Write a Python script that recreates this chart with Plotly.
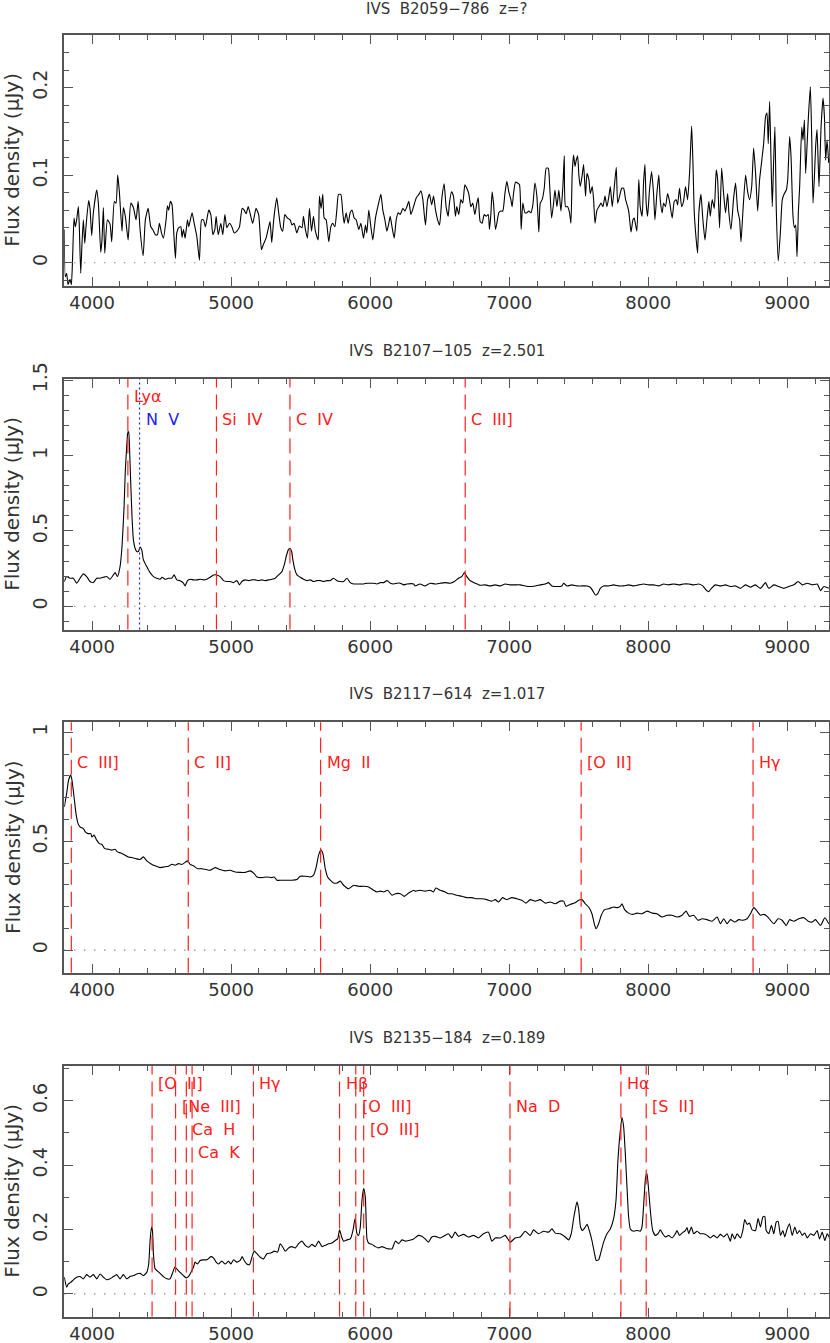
import plotly.graph_objects as go

# ---------------------------------------------------------------
# spectra: wavelength (A), flux (uJy)
# ---------------------------------------------------------------

wave_b2059 = [3800, 3807, 3817, 3827, 3841, 3851, 3860, 3870, 3879, 3889,
              3901, 3908, 3918, 3927, 3937, 3947, 3956, 3975, 3985, 3997,
              4009, 4033, 4045, 4062, 4071, 4081, 4091, 4110, 4129, 4141,
              4160, 4172, 4184, 4196, 4215, 4225, 4239, 4259, 4278, 4297,
              4316, 4331, 4345, 4367, 4383, 4403, 4422, 4436, 4455, 4470,
              4484, 4499, 4513, 4532, 4542, 4551, 4563, 4575, 4585, 4599,
              4609, 4623, 4638, 4647, 4657, 4669, 4686, 4695, 4719, 4734,
              4753, 4772, 4787, 4801, 4815, 4839, 4854, 4868, 4883, 4892,
              4907, 4926, 4940, 4955, 4969, 4988, 5003, 5022, 5041, 5060,
              5079, 5094, 5108, 5123,
              5155, 5179, 5198, 5218, 5232, 5251, 5270, 5280, 5292, 5304,
              5314, 5328, 5342, 5357, 5371, 5386, 5405, 5424, 5438, 5453,
              5472, 5491, 5510, 5520, 5534, 5549, 5563, 5578, 5592, 5606,
              5626, 5635, 5647, 5659, 5669, 5683, 5702, 5717, 5731, 5746,
              5760, 5772, 5789, 5803, 5813, 5827, 5842, 5856, 5870, 5885,
              5899, 5918, 5933, 5952, 5966, 5976, 5990, 6005, 6019, 6038,
              6058, 6077, 6091, 6106, 6120, 6134, 6144, 6158, 6173, 6187,
              6202, 6216, 6235, 6250, 6264, 6278, 6293, 6312, 6331, 6350,
              6365, 6379, 6389, 6398, 6413, 6427, 6442, 6456, 6470, 6485,
              6499,
              6517, 6532, 6546, 6561, 6570, 6585, 6599, 6613, 6623, 6637,
              6652, 6666, 6681, 6695, 6709, 6724, 6738, 6753, 6767, 6777,
              6791, 6805, 6820, 6834, 6849, 6858, 6868, 6877, 6887, 6901,
              6911, 6925, 6940, 6954, 6969, 6983, 6997, 7012, 7021, 7031,
              7045, 7060, 7074, 7086, 7098, 7113, 7127, 7141, 7156, 7170,
              7185, 7199, 7213, 7223, 7237, 7252, 7266, 7281, 7290, 7305,
              7319, 7329, 7343, 7357, 7372, 7386, 7396, 7405, 7420, 7434,
              7444, 7453, 7463, 7473, 7482, 7492, 7501, 7511, 7525, 7535,
              7549, 7559, 7573, 7583, 7597, 7607, 7617, 7631, 7645, 7660,
              7674, 7689, 7703, 7717, 7727, 7741, 7756, 7770, 7780, 7794,
              7809, 7823, 7837, 7852, 7861, 7876, 7890,
              7899, 7918, 7932, 7942, 7956, 7966, 7976, 7985, 7995, 8009,
              8024, 8038, 8048, 8062, 8076, 8086, 8100, 8110, 8124, 8139,
              8153, 8172, 8187, 8201, 8211, 8225, 8240, 8254, 8268, 8283,
              8297, 8312, 8321, 8331, 8345, 8355, 8364, 8379, 8393, 8408,
              8422, 8436, 8446, 8460, 8475, 8489, 8499, 8513, 8528, 8542,
              8556, 8571, 8580, 8595, 8614, 8628, 8643, 8657, 8667, 8681,
              8700, 8715, 8729, 8744, 8758, 8772, 8787, 8801, 8816, 8830,
              8844, 8854, 8863, 8873, 8883, 8892, 8902, 8911, 8921, 8935,
              8950, 8964, 8979, 8993, 9003, 9017, 9027, 9041, 9051, 9060,
              9070, 9080, 9089, 9104, 9113, 9123, 9132, 9142, 9152, 9166,
              9176, 9185, 9195, 9204, 9214, 9228, 9243, 9257, 9267, 9276,
              9286, 9298]
flux_b2059 = [0.038, -0.016, -0.012, -0.025, -0.019, -0.025, 0.007, 0.051, 0.041, 0.049,
              0.064, 0.041, -0.012, 0.021, 0.049, 0.022, 0.041, 0.071, 0.062, 0.031,
              0.057, 0.083, 0.068, 0.012, 0.026, 0.063, 0.011, 0.049, 0.044, 0.024,
              0.070, 0.068, 0.100, 0.081, 0.036, 0.063, 0.053, 0.026, 0.068, 0.063,
              0.049, 0.070, 0.038, 0.008, 0.049, 0.062, 0.041, 0.038, 0.032, 0.032,
              0.045, 0.034, 0.028, 0.049, 0.065, 0.060, 0.070, 0.066, 0.041, 0.005,
              0.034, 0.040, 0.041, 0.029, 0.038, 0.028, 0.049, 0.041, 0.057, 0.045,
              0.030, 0.003, 0.049, 0.049, 0.041, 0.060, 0.055, 0.032, 0.038, 0.053,
              0.032, 0.045, 0.032, 0.055, 0.040, 0.045, 0.042, 0.034, 0.036, 0.041,
              0.062, 0.060, 0.056, 0.064,
              0.045, 0.062, 0.055, 0.015, 0.021, 0.028, 0.041, 0.047, 0.023, 0.045,
              0.060, 0.074, 0.057, 0.040, 0.036, 0.055, 0.051, 0.049, 0.043, 0.045,
              0.034, 0.042, 0.040, 0.053, 0.038, 0.028, 0.062, 0.036, 0.053, 0.036,
              0.026, 0.076, 0.062, 0.078, 0.051, 0.049, 0.024, 0.041, 0.045, 0.041,
              0.060, 0.078, 0.078, 0.057, 0.045, 0.057, 0.045, 0.057, 0.060, 0.051,
              0.049, 0.038, 0.045, 0.028, 0.043, 0.034, 0.060, 0.041, 0.026, 0.051,
              0.066, 0.078, 0.060, 0.049, 0.036, 0.045, 0.053, 0.040, 0.028, 0.049,
              0.057, 0.055, 0.062, 0.059, 0.064, 0.070, 0.055, 0.064, 0.074, 0.078,
              0.082, 0.072, 0.055, 0.043, 0.072, 0.078, 0.066, 0.076, 0.060, 0.049,
              0.043,
              0.076, 0.090, 0.064, 0.053, 0.068, 0.081, 0.076, 0.053, 0.064, 0.055,
              0.072, 0.068, 0.089, 0.085, 0.079, 0.064, 0.068, 0.055, 0.068, 0.074,
              0.047, 0.045, 0.055, 0.053, 0.055, 0.038, 0.055, 0.081, 0.068, 0.038,
              0.045, 0.057, 0.059, 0.059, 0.079, 0.093, 0.081, 0.072, 0.064, 0.079,
              0.092, 0.091, 0.089, 0.038, 0.068, 0.057, 0.057, 0.059, 0.057, 0.066,
              0.091, 0.076, 0.035, 0.068, 0.072, 0.085, 0.108, 0.108, 0.091, 0.051,
              0.068, 0.083, 0.064, 0.083, 0.059, 0.087, 0.122, 0.064, 0.064, 0.057,
              0.045, 0.102, 0.123, 0.110, 0.117, 0.122, 0.100, 0.087, 0.100, 0.112,
              0.076, 0.102, 0.095, 0.079, 0.087, 0.072, 0.045, 0.060, 0.064, 0.068,
              0.064, 0.076, 0.064, 0.076, 0.087, 0.064, 0.087, 0.109, 0.068, 0.076,
              0.085, 0.085, 0.072, 0.064, 0.057, 0.035, 0.049,
              0.051, 0.036, 0.095, 0.064, 0.053, 0.091, 0.112, 0.068, 0.053, 0.083,
              0.104, 0.079, 0.049, 0.079, 0.100, 0.072, 0.057, 0.068, 0.064, 0.079,
              0.070, 0.051, 0.070, 0.072, 0.066, 0.085, 0.064, 0.070, 0.087, 0.072,
              0.102, 0.156, 0.117, 0.057, 0.026, 0.011, 0.057, 0.078, 0.049, 0.026,
              0.049, 0.070, 0.053, 0.072, 0.062, 0.106, 0.095, 0.040, 0.108, 0.079,
              0.057, 0.079, 0.057, 0.038, 0.074, 0.091, 0.060, 0.049, 0.024, 0.059,
              0.100, 0.081, 0.072, 0.087, 0.131, 0.102, 0.059, 0.095, 0.116, 0.136,
              0.167, 0.171, 0.136, 0.184, 0.117, 0.064, 0.117, 0.155, 0.060, 0.002,
              0.034, 0.072, 0.079, 0.083, 0.095, 0.144, 0.121, 0.053, 0.040, 0.043,
              0.007, 0.059, 0.087, 0.155, 0.140, 0.163, 0.102, 0.133, 0.167, 0.201,
              0.140, 0.068, 0.098, 0.133, 0.152, 0.087, 0.155, 0.188, 0.167, 0.117,
              0.140, 0.114]

wave_b2107 = [3800, 3817, 3841, 3865, 3889, 3913, 3937, 3961, 3985, 4009,
              4033, 4057, 4081, 4105, 4129, 4153, 4165, 4182, 4201, 4215,
              4230, 4239, 4249, 4256, 4263, 4268, 4277, 4287, 4297, 4309,
              4321, 4333, 4345, 4357, 4369, 4393, 4417, 4441, 4465, 4489,
              4503, 4525, 4549, 4573, 4590, 4609, 4633, 4657, 4669, 4686,
              4705, 4729, 4753, 4777, 4801, 4825, 4849, 4873, 4897, 4921,
              4945, 4969, 4993, 5017, 5041, 5060, 5077, 5101, 5125, 5149,
              5173, 5197, 5221, 5245, 5269, 5293, 5317, 5341, 5365, 5382,
              5396, 5411, 5423, 5435, 5444, 5459, 5473, 5497, 5521, 5545,
              5569, 5593, 5617, 5641, 5665, 5689, 5713, 5737, 5761, 5785,
              5809, 5833, 5857, 5881, 5905, 5929, 5953, 5977, 6001, 6025,
              6049, 6073, 6097, 6121, 6145, 6169, 6193, 6217, 6241, 6265,
              6313,
              6323, 6359, 6395, 6431, 6467, 6503, 6539, 6575, 6606, 6635,
              6659, 6678, 6695, 6719, 6755, 6791, 6827, 6863, 6899, 6935,
              6971, 7007, 7043, 7079, 7115, 7151, 7187, 7223, 7259, 7283,
              7307, 7343, 7379, 7391, 7415, 7451, 7487, 7523, 7559, 7583,
              7600, 7619, 7638, 7655, 7679, 7715, 7751, 7787, 7823, 7859,
              7895, 7931, 7967, 8003, 8039, 8075, 8111, 8147, 8183, 8219,
              8255, 8291, 8327, 8363, 8392, 8416, 8435, 8454, 8483, 8519,
              8555, 8591, 8627, 8663, 8699, 8735, 8771, 8807, 8843, 8867,
              8903, 8939, 8975, 9011, 9047, 9078, 9107, 9143, 9179, 9215,
              9239, 9263, 9299]
flux_b2107 = [0.164, 0.197, 0.186, 0.186, 0.153, 0.186, 0.215, 0.197, 0.164, 0.157,
              0.186, 0.186, 0.192, 0.197, 0.179, 0.208, 0.223, 0.197, 0.263, 0.396,
              0.662, 0.905, 1.060, 1.148, 1.159, 1.082, 0.838, 0.595, 0.440, 0.385,
              0.363, 0.363, 0.392, 0.374, 0.308, 0.263, 0.223, 0.197, 0.186, 0.179,
              0.192, 0.179, 0.186, 0.186, 0.208, 0.175, 0.170, 0.153, 0.135, 0.170,
              0.179, 0.175, 0.175, 0.179, 0.175, 0.179, 0.192, 0.208, 0.208, 0.197,
              0.170, 0.164, 0.164, 0.157, 0.170, 0.142, 0.164, 0.175, 0.170, 0.175,
              0.175, 0.170, 0.175, 0.170, 0.175, 0.179, 0.186, 0.208, 0.230, 0.274,
              0.330, 0.374, 0.385, 0.363, 0.308, 0.241, 0.208, 0.192, 0.179, 0.170,
              0.175, 0.164, 0.170, 0.170, 0.164, 0.170, 0.170, 0.186, 0.170, 0.164,
              0.164, 0.186, 0.157, 0.148, 0.148, 0.148, 0.148, 0.153, 0.153, 0.153,
              0.148, 0.157, 0.157, 0.170, 0.153, 0.148, 0.153, 0.153, 0.142, 0.148,
              0.148,
              0.135, 0.148, 0.135, 0.153, 0.148, 0.153, 0.157, 0.153, 0.164, 0.186,
              0.197, 0.223, 0.197, 0.170, 0.153, 0.139, 0.142, 0.135, 0.142, 0.135,
              0.148, 0.142, 0.142, 0.142, 0.135, 0.131, 0.135, 0.142, 0.148, 0.157,
              0.135, 0.131, 0.135, 0.153, 0.135, 0.142, 0.135, 0.135, 0.135, 0.126,
              0.104, 0.075, 0.086, 0.119, 0.135, 0.135, 0.142, 0.135, 0.135, 0.142,
              0.135, 0.142, 0.148, 0.142, 0.142, 0.135, 0.148, 0.142, 0.148, 0.142,
              0.148, 0.148, 0.142, 0.148, 0.135, 0.108, 0.097, 0.119, 0.142, 0.135,
              0.142, 0.131, 0.135, 0.119, 0.142, 0.126, 0.142, 0.119, 0.157, 0.119,
              0.142, 0.131, 0.119, 0.131, 0.142, 0.164, 0.142, 0.153, 0.142, 0.148,
              0.104, 0.131, 0.119]

wave_b2117 = [3800, 3817, 3831, 3846, 3855, 3870, 3884, 3899, 3913, 3937,
              3951, 3971, 3990, 3999, 4014, 4033, 4052, 4071, 4091, 4117,
              4141, 4165, 4182, 4206, 4237, 4261, 4285, 4316, 4345, 4369,
              4393, 4422, 4453, 4489, 4518, 4549, 4573, 4597, 4621, 4645,
              4669, 4686, 4705, 4729, 4758, 4789, 4820, 4849, 4885, 4921,
              4957, 4993, 5029, 5065, 5101, 5137, 5166, 5185, 5221, 5257,
              5293, 5310, 5329, 5365, 5401, 5437, 5473, 5497, 5533, 5569,
              5593, 5612, 5629, 5646, 5660, 5677, 5694, 5713, 5737, 5761,
              5785, 5809, 5845, 5881, 5917, 5953, 5989, 6025, 6049, 6073,
              6097, 6125, 6157, 6181, 6217, 6245, 6277, 6313,
              6323, 6359, 6395, 6431, 6455, 6472, 6503, 6539, 6563, 6587,
              6623, 6659, 6695, 6731, 6767, 6803, 6839, 6875, 6899, 6923,
              6952, 6983, 7019, 7055, 7091, 7120, 7151, 7187, 7223, 7259,
              7295, 7331, 7367, 7391, 7408, 7439, 7470, 7499, 7523, 7547,
              7571, 7595, 7612, 7624, 7643, 7662, 7686, 7715, 7751, 7775,
              7799, 7811, 7830, 7859, 7888, 7919, 7955, 7991, 8027, 8063,
              8099, 8135, 8171, 8207, 8243, 8272, 8296, 8327, 8358, 8387,
              8423, 8459, 8495, 8519, 8543, 8567, 8591, 8623, 8651, 8680,
              8711, 8735, 8759, 8783, 8807, 8831, 8855, 8879, 8903, 8934,
              8963, 8992, 9016, 9047, 9083, 9119, 9150, 9179, 9203, 9239,
              9270, 9299]
flux_b2117 = [0.658, 0.719, 0.781, 0.804, 0.781, 0.704, 0.627, 0.581, 0.566, 0.558,
              0.543, 0.535, 0.535, 0.520, 0.528, 0.505, 0.489, 0.485, 0.466, 0.463,
              0.459, 0.463, 0.451, 0.446, 0.436, 0.428, 0.425, 0.420, 0.416, 0.428,
              0.410, 0.397, 0.387, 0.379, 0.382, 0.385, 0.394, 0.390, 0.397, 0.393,
              0.403, 0.410, 0.394, 0.387, 0.374, 0.374, 0.370, 0.367, 0.379, 0.370,
              0.364, 0.367, 0.359, 0.357, 0.357, 0.364, 0.351, 0.336, 0.333, 0.336,
              0.333, 0.336, 0.321, 0.321, 0.321, 0.321, 0.324, 0.339, 0.339, 0.336,
              0.344, 0.382, 0.436, 0.459, 0.443, 0.374, 0.336, 0.321, 0.308, 0.308,
              0.317, 0.298, 0.282, 0.298, 0.293, 0.293, 0.290, 0.275, 0.267, 0.271,
              0.267, 0.275, 0.252, 0.259, 0.259, 0.247, 0.262, 0.275,
              0.271, 0.275, 0.271, 0.275, 0.267, 0.285, 0.275, 0.267, 0.259, 0.259,
              0.252, 0.247, 0.241, 0.241, 0.236, 0.236, 0.232, 0.225, 0.232, 0.221,
              0.241, 0.232, 0.241, 0.236, 0.229, 0.216, 0.232, 0.225, 0.232, 0.216,
              0.221, 0.213, 0.225, 0.225, 0.201, 0.210, 0.216, 0.229, 0.232, 0.213,
              0.198, 0.167, 0.121, 0.098, 0.121, 0.160, 0.186, 0.190, 0.198, 0.195,
              0.201, 0.213, 0.186, 0.170, 0.164, 0.170, 0.167, 0.179, 0.170, 0.167,
              0.152, 0.160, 0.160, 0.152, 0.160, 0.179, 0.155, 0.160, 0.137, 0.144,
              0.140, 0.133, 0.152, 0.121, 0.144, 0.121, 0.140, 0.129, 0.140, 0.137,
              0.144, 0.167, 0.195, 0.179, 0.160, 0.164, 0.155, 0.137, 0.121, 0.144,
              0.137, 0.113, 0.140, 0.133, 0.144, 0.149, 0.133, 0.129, 0.140, 0.113,
              0.149, 0.121]

wave_b2135 = [3800, 3817, 3829, 3846, 3865, 3889, 3913, 3937, 3961, 3985,
              4009, 4033, 4057, 4081, 4105, 4129, 4153, 4177, 4201, 4225,
              4249, 4273, 4297, 4321, 4345, 4369, 4393, 4407, 4417, 4427,
              4434, 4441, 4453, 4470, 4489, 4513, 4537, 4561, 4580, 4595,
              4609, 4633, 4657, 4676, 4693, 4705, 4717, 4729, 4741, 4758,
              4777, 4801, 4825, 4854, 4873, 4892, 4909, 4933, 4957, 4981,
              4998, 5017, 5041, 5065, 5079, 5094, 5113, 5132, 5149, 5166,
              5185, 5209, 5233, 5257, 5286, 5310, 5334, 5353, 5372, 5389,
              5413, 5437, 5461, 5485, 5509, 5533, 5557, 5581, 5605, 5629,
              5653, 5677, 5701, 5725, 5749, 5766, 5780, 5795, 5809, 5833,
              5857, 5876, 5891, 5905, 5917, 5929, 5941, 5953, 5965, 5977,
              5989, 6013, 6037, 6061, 6085, 6109, 6133, 6157, 6181, 6205,
              6229, 6253, 6277, 6313,
              6347, 6371, 6395, 6419, 6443, 6467, 6503, 6539, 6563, 6587,
              6611, 6635, 6671, 6707, 6743, 6779, 6815, 6851, 6875, 6899,
              6935, 6971, 7007, 7043, 7079, 7115, 7151, 7175, 7211, 7247,
              7283, 7307, 7331, 7367, 7403, 7427, 7446, 7465, 7487, 7499,
              7513, 7528, 7547, 7561, 7576, 7595, 7614, 7626, 7643, 7657,
              7679, 7703, 7727, 7751, 7768, 7782, 7797, 7811, 7823, 7835,
              7847, 7859, 7871, 7895, 7919, 7943, 7955, 7969, 7981, 7991,
              8003, 8017, 8032, 8051, 8070, 8087, 8104, 8123, 8147, 8171,
              8195, 8207, 8224, 8243, 8267, 8279, 8291, 8310, 8327, 8351,
              8375, 8399, 8423, 8447, 8471, 8495, 8519, 8543, 8567, 8591,
              8603, 8622, 8639, 8663, 8680, 8694, 8711, 8728, 8747, 8771,
              8790, 8807, 8824, 8838, 8848, 8867, 8886, 8903, 8920, 8934,
              8951, 8968, 8982, 8999, 9016, 9035, 9054, 9071, 9088, 9107,
              9126, 9143, 9167, 9191, 9215, 9232, 9251, 9270, 9287, 9304]
flux_b2135 = [0.052, 0.021, 0.031, 0.036, 0.044, 0.052, 0.054, 0.047, 0.060, 0.052,
              0.060, 0.047, 0.062, 0.052, 0.044, 0.047, 0.054, 0.060, 0.047, 0.060,
              0.047, 0.054, 0.057, 0.062, 0.064, 0.057, 0.067, 0.093, 0.166, 0.208,
              0.197, 0.125, 0.078, 0.071, 0.064, 0.054, 0.047, 0.047, 0.067, 0.083,
              0.078, 0.067, 0.057, 0.050, 0.054, 0.062, 0.073, 0.083, 0.099, 0.093,
              0.104, 0.106, 0.106, 0.116, 0.112, 0.099, 0.093, 0.102, 0.093, 0.102,
              0.093, 0.106, 0.099, 0.104, 0.116, 0.104, 0.093, 0.091, 0.114, 0.133,
              0.125, 0.114, 0.109, 0.125, 0.127, 0.133, 0.130, 0.156, 0.145, 0.133,
              0.143, 0.147, 0.143, 0.156, 0.164, 0.151, 0.145, 0.154, 0.147, 0.164,
              0.147, 0.151, 0.156, 0.158, 0.166, 0.171, 0.199, 0.177, 0.164, 0.168,
              0.171, 0.197, 0.234, 0.187, 0.182, 0.208, 0.291, 0.327, 0.301, 0.171,
              0.158, 0.154, 0.147, 0.143, 0.147, 0.143, 0.140, 0.140, 0.164, 0.156,
              0.168, 0.164, 0.166, 0.171,
              0.182, 0.179, 0.171, 0.161, 0.177, 0.179, 0.174, 0.182, 0.187, 0.174,
              0.192, 0.179, 0.185, 0.177, 0.182, 0.174, 0.187, 0.192, 0.164, 0.174,
              0.174, 0.182, 0.161, 0.174, 0.177, 0.195, 0.182, 0.199, 0.187, 0.195,
              0.192, 0.202, 0.189, 0.187, 0.177, 0.168, 0.187, 0.239, 0.286, 0.265,
              0.208, 0.197, 0.208, 0.216, 0.197, 0.166, 0.125, 0.104, 0.106, 0.125,
              0.161, 0.187, 0.202, 0.234, 0.291, 0.415, 0.498, 0.548, 0.519, 0.436,
              0.332, 0.239, 0.202, 0.195, 0.197, 0.195, 0.208, 0.291, 0.363, 0.374,
              0.322, 0.249, 0.197, 0.182, 0.187, 0.199, 0.187, 0.177, 0.182, 0.174,
              0.187, 0.197, 0.182, 0.189, 0.197, 0.206, 0.187, 0.208, 0.187, 0.195,
              0.187, 0.187, 0.182, 0.174, 0.182, 0.174, 0.185, 0.177, 0.187, 0.164,
              0.187, 0.171, 0.187, 0.174, 0.197, 0.231, 0.216, 0.220, 0.199, 0.197,
              0.234, 0.208, 0.239, 0.241, 0.197, 0.187, 0.213, 0.187, 0.223, 0.226,
              0.182, 0.197, 0.177, 0.202, 0.218, 0.182, 0.208, 0.187, 0.197, 0.182,
              0.189, 0.174, 0.187, 0.182, 0.197, 0.171, 0.192, 0.166, 0.187, 0.174]

# objects and redshifts
sources = ["IVS  B2059\u2212786", "IVS  B2107\u2212105", "IVS  B2117\u2212614", "IVS  B2135\u2212184"]
redshift_text = ["?", "2.501", "1.017", "0.189"]
redshifts = [None, 2.501, 1.017, 0.189]

# emission / absorption line identifications (rest wavelength, A)
lines_b2107 = ["Ly\u03b1", "N V", "Si IV", "C IV", "C III]"]
rest_b2107 = [1216, 1240, 1398, 1549, 1909]
lines_b2117 = ["C III]", "C II]", "Mg II", "[O II]", "H\u03b3"]
rest_b2117 = [1909, 2326, 2798, 3727, 4340]
lines_b2135 = ["[O II]", "[Ne III]", "Ca H", "Ca K", "H\u03b3", "H\u03b2",
               "[O III]", "[O III]", "Na D", "H\u03b1", "[S II]"]
rest_b2135 = [3727, 3869, 3934, 3969, 4340, 4861, 4959, 5007, 5892, 6563, 6716]

# ---------------------------------------------------------------
# layout (pixel geometry of the original 830 x 1343 page)
# ---------------------------------------------------------------
W, H = 830, 1343
x_left, x_right = 64.3, 829.0
panel_top = [35.0, 379.0, 722.3, 1066.0]
panel_h = 250.5
title_y = [8.5, 351.0, 694.0, 1037.5]

yranges = [[-0.026, 0.26], [-0.154, 1.507], [-0.104, 1.046], [-0.07, 0.708]]
ydtick = [0.1, 0.5, 0.5, 0.2]
yminor = [0.02, 0.1, 0.1, 0.1]

# label rows (1 = just under the top frame) and colours, per panel
rows = [[], [1, 2, 2, 2, 2], [2, 2, 2, 2, 2], [1, 2, 3, 4, 1, 1, 2, 3, 2, 1, 2]]
line_colors = [[], ["red", "blue", "red", "red", "red"], ["red"] * 5, ["red"] * 11]

spectra = [(wave_b2059, flux_b2059), (wave_b2107, flux_b2107),
           (wave_b2117, flux_b2117), (wave_b2135, flux_b2135)]
idents = [([], []), (lines_b2107, rest_b2107), (lines_b2117, rest_b2117), (lines_b2135, rest_b2135)]

for w, f in spectra:
    assert len(w) == len(f)

FONT = "DejaVu Sans"
TXT = "#333333"
AX = "#555555"

fig = go.Figure()
shapes = []
annotations = []

for i in range(4):
    n = "" if i == 0 else str(i + 1)
    w, f = spectra[i]
    fig.add_trace(go.Scatter(x=w, y=f, mode="lines", xaxis="x" + n, yaxis="y" + n,
                             line=dict(color="black", width=1.1, shape="spline", smoothing=0.5),
                             showlegend=False, hoverinfo="skip"))

    top = 1 - panel_top[i] / H
    bot = 1 - (panel_top[i] + panel_h) / H
    fig.layout["xaxis" + n] = dict(
        domain=[x_left / W, x_right / W], anchor="y" + n, range=[3800, 9300],
        tick0=0, dtick=1000, ticks="inside", ticklen=9, tickwidth=1, tickcolor=AX,
        showline=True, linecolor=AX, linewidth=1.5, mirror="allticks",
        showgrid=False, zeroline=False, ticklabelstandoff=0, automargin=False,
        tickfont=dict(family=FONT, size=18, color=TXT),
        minor=dict(dtick=200, tick0=0, ticks="inside", ticklen=5, tickwidth=1,
                   tickcolor=AX, showgrid=False))
    fig.layout["yaxis" + n] = dict(
        domain=[bot, top], anchor="x" + n, range=yranges[i],
        tick0=0, dtick=ydtick[i], ticks="inside", ticklen=9, tickwidth=1, tickcolor=AX,
        showline=True, linecolor=AX, linewidth=1.5, mirror="allticks",
        showgrid=False, zeroline=False, tickangle=-90, ticklabelstandoff=8, automargin=False,
        tickfont=dict(family=FONT, size=19, color=TXT),
        minor=dict(dtick=yminor[i], tick0=0, ticks="inside", ticklen=5, tickwidth=1,
                   tickcolor=AX, showgrid=False))

    # dotted zero level
    shapes.append(dict(type="line", xref="x" + n + " domain", yref="y" + n,
                       x0=0, x1=1, y0=0, y1=0,
                       line=dict(color="#555555", width=1.2, dash="1px,9px")))

    # line identifications
    names, rest = idents[i]
    for k in range(len(names)):
        lam = rest[k] * (1 + redshifts[i])
        col = line_colors[i][k]
        dash = "2px,3px" if col == "blue" else "15px,7px"
        shapes.append(dict(type="line", xref="x" + n, yref="y" + n + " domain",
                           x0=lam, x1=lam, y0=0, y1=1,
                           line=dict(color="#ff2020" if col == "red" else "#2020ff",
                                     width=1.2, dash=dash)))
        ypix = 17.5 + 23 * (rows[i][k] - 1)
        annotations.append(dict(text=names[k].replace(" ", "\u00a0\u00a0"),
                                xref="x" + n, yref="y" + n + " domain",
                                x=lam, y=1 - ypix / panel_h, xanchor="left", yanchor="middle",
                                xshift=4, showarrow=False,
                                font=dict(family=FONT, size=16,
                                          color="#ff2020" if col == "red" else "#2020ff")))

    # panel title
    annotations.append(dict(text=sources[i].replace(" ", "\u00a0") + "\u00a0\u00a0z=" + redshift_text[i],
                            xref="paper", yref="paper",
                            x=(x_left + x_right) / 2 / W, y=1 - title_y[i] / H,
                            xanchor="center", yanchor="middle", showarrow=False,
                            font=dict(family=FONT, size=15, color=TXT)))
    # y axis title
    annotations.append(dict(text="Flux density (\u03bcJy)", xref="paper", yref="y" + n + " domain",
                            x=12.5 / W, y=0.5, xanchor="center", yanchor="middle",
                            textangle=-90, showarrow=False,
                            font=dict(family=FONT, size=20, color=TXT)))

fig.update_layout(width=W, height=H, margin=dict(l=0, r=0, t=0, b=0, pad=0, autoexpand=False),
                  paper_bgcolor="white", plot_bgcolor="white",
                  shapes=shapes, annotations=annotations)

fig.write_html("out.html", config={"displayModeBar": False},
               post_script="document.body.style.margin='0';")
